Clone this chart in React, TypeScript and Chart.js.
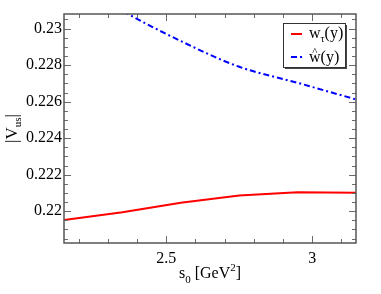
import React, { useEffect, useRef } from "react";
import { Chart, registerables } from "chart.js";

Chart.register(...registerables);

const s0Values = [2.15, 2.35, 2.55, 2.75, 2.95, 3.15];
const wTauValues = [0.21952, 0.21995, 0.22047, 0.22086, 0.22104, 0.22101];
const wHatValues = [0.2330, 0.23098, 0.22932, 0.22791, 0.22703, 0.22612];
const xTickValues = [2.5, 3];
const xTickLabels = ["2.5", "3"];
const yTickValues = [0.22, 0.222, 0.224, 0.226, 0.228, 0.23];
const yTickLabels = ["0.22", "0.222", "0.224", "0.226", "0.228", "0.23"];

const SERIF = "'Liberation Serif', 'Times New Roman', serif";
const X_MIN = 2.15, X_MAX = 3.15, Y_MIN = 0.21826, Y_MAX = 0.2308;

const framePlugin = {
  id: "frame",
  afterDatasetsDraw(chart: any) {
    const ctx = chart.ctx;
    const { left, right, top, bottom } = chart.chartArea;
    const xs = chart.scales.x, ys = chart.scales.y;
    ctx.save();
    ctx.strokeStyle = "#6a6a6a";
    ctx.lineWidth = 1;
    for (let i = 22; i <= 31; i++) {
      const v = i / 10;
      const px = Math.round(xs.getPixelForValue(v)) + 0.5;
      const major = i % 5 === 0;
      const len = major ? 7 : 4;
      ctx.beginPath();
      ctx.moveTo(px, bottom); ctx.lineTo(px, bottom - len);
      ctx.moveTo(px, top); ctx.lineTo(px, top + len);
      ctx.stroke();
    }
    for (let i = 437; i <= 461; i++) {
      const v = i / 2000;
      const py = Math.round(ys.getPixelForValue(v)) + 0.5;
      const major = i % 4 === 0;
      const len = major ? 7 : 4;
      ctx.beginPath();
      ctx.moveTo(left, py); ctx.lineTo(left + len, py);
      ctx.moveTo(right, py); ctx.lineTo(right - len, py);
      ctx.stroke();
    }
    ctx.strokeStyle = "#555";
    ctx.lineWidth = 1.5;
    ctx.strokeRect(left, top, right - left, bottom - top);

    // legend
    const bx = 283, by = 23, bw = 62, bh = 44;
    ctx.fillStyle = "#444";
    ctx.fillRect(bx + 2, by + 2, bw, bh);
    ctx.fillStyle = "#fff";
    ctx.fillRect(bx, by, bw, bh);
    ctx.strokeStyle = "#333";
    ctx.lineWidth = 1;
    ctx.strokeRect(bx + 0.5, by + 0.5, bw, bh);

    ctx.lineWidth = 2;
    ctx.strokeStyle = "#ff0000";
    ctx.beginPath(); ctx.moveTo(291, 34); ctx.lineTo(302, 34); ctx.stroke();
    ctx.strokeStyle = "#0000ff";
    ctx.setLineDash([6, 3, 2, 3]);
    ctx.beginPath(); ctx.moveTo(291, 57); ctx.lineTo(305, 57); ctx.stroke();
    ctx.setLineDash([]);

    ctx.fillStyle = "#000";
    ctx.textBaseline = "alphabetic";
    ctx.textAlign = "left";
    ctx.font = `16px ${SERIF}`;
    let x = 309;
    ctx.fillText("w", x, 38); x += ctx.measureText("w").width;
    ctx.font = `10px ${SERIF}`;
    ctx.fillText("τ", x, 42); x += ctx.measureText("τ").width;
    ctx.font = `16px ${SERIF}`;
    ctx.fillText("(y)", x, 38);
    x = 309;
    ctx.fillText("w", x, 62);
    const ww = ctx.measureText("w").width;
    ctx.font = `11px ${SERIF}`;
    ctx.textAlign = "center";
    ctx.fillText("^", x + ww / 2, 55);
    ctx.textAlign = "left";
    ctx.font = `16px ${SERIF}`;
    ctx.fillText("(y)", x + ww, 62);

    // x title
    const parts: [string, number, number][] = [["s", 16, 0], ["0", 11, 5], [" [GeV", 16, 0], ["2", 11, -7], ["]", 16, 0]];
    let total = 0;
    for (const [t, s] of parts) { ctx.font = `${s}px ${SERIF}`; total += ctx.measureText(t).width; }
    x = (left + right) / 2 - total / 2;
    for (const [t, s, dy] of parts) {
      ctx.font = `${s}px ${SERIF}`;
      ctx.fillText(t, x, 278 + dy);
      x += ctx.measureText(t).width;
    }

    // y title
    ctx.translate(17, (top + bottom) / 2);
    ctx.rotate(-Math.PI / 2);
    const yparts: [string, number, number][] = [["|V", 17, 0], ["us", 11, 4], ["|", 17, 0]];
    total = 0;
    for (const [t, s] of yparts) { ctx.font = `${s}px ${SERIF}`; total += ctx.measureText(t).width; }
    x = -total / 2;
    for (const [t, s, dy] of yparts) {
      ctx.font = `${s}px ${SERIF}`;
      ctx.fillText(t, x, dy);
      x += ctx.measureText(t).width;
    }
    ctx.restore();
  },
};

export default function App() {
  const ref = useRef<HTMLCanvasElement>(null);
  useEffect(() => {
    if (!ref.current) return;
    const chart = new Chart(ref.current, {
      type: "line",
      data: {
        datasets: [
          {
            label: "w_τ(y)",
            data: s0Values.map((x, i) => ({ x, y: wTauValues[i] })),
            borderColor: "#ff0000",
            borderWidth: 2,
            pointRadius: 0,
            tension: 0,
          },
          {
            label: "ŵ(y)",
            data: s0Values.map((x, i) => ({ x, y: wHatValues[i] })),
            borderColor: "#0000ff",
            borderWidth: 2,
            borderDash: [6, 3, 2, 3],
            pointRadius: 0,
            cubicInterpolationMode: "monotone",
          },
        ],
      },
      options: {
        responsive: false,
        animation: false,
        layout: { padding: { left: 0, right: 25, top: 14, bottom: 0 } },
        plugins: { legend: { display: false }, tooltip: { enabled: false } },
        scales: {
          x: {
            type: "linear",
            min: X_MIN,
            max: X_MAX,
            grid: { display: false, drawTicks: false },
            border: { display: false },
            afterBuildTicks: (s: any) => { s.ticks = xTickValues.map((v) => ({ value: v })); },
            afterFit: (s: any) => { s.height = 51; },
            ticks: {
              color: "#000",
              font: { family: SERIF, size: 16 },
              padding: 6,
              callback: (v: any) => xTickLabels[xTickValues.indexOf(Number(v))] ?? "",
            },
          },
          y: {
            type: "linear",
            min: Y_MIN,
            max: Y_MAX,
            grid: { display: false, drawTicks: false },
            border: { display: false },
            afterBuildTicks: (s: any) => { s.ticks = yTickValues.map((v) => ({ value: v })); },
            afterFit: (s: any) => { s.width = 64; },
            ticks: {
              color: "#000",
              font: { family: SERIF, size: 16 },
              padding: 2,
              callback: (v: any) => {
                const idx = yTickValues.findIndex((t) => Math.abs(t - Number(v)) < 1e-7);
                return idx >= 0 ? yTickLabels[idx] : "";
              },
            },
          },
        },
      },
      plugins: [framePlugin],
    });
    return () => chart.destroy();
  }, []);
  return (
    <div style={{ position: "fixed", left: 0, top: 0, width: 381, height: 294, background: "#fff" }}>
      <canvas ref={ref} width={381} height={294} style={{ width: 381, height: 294 }} />
    </div>
  );
}
